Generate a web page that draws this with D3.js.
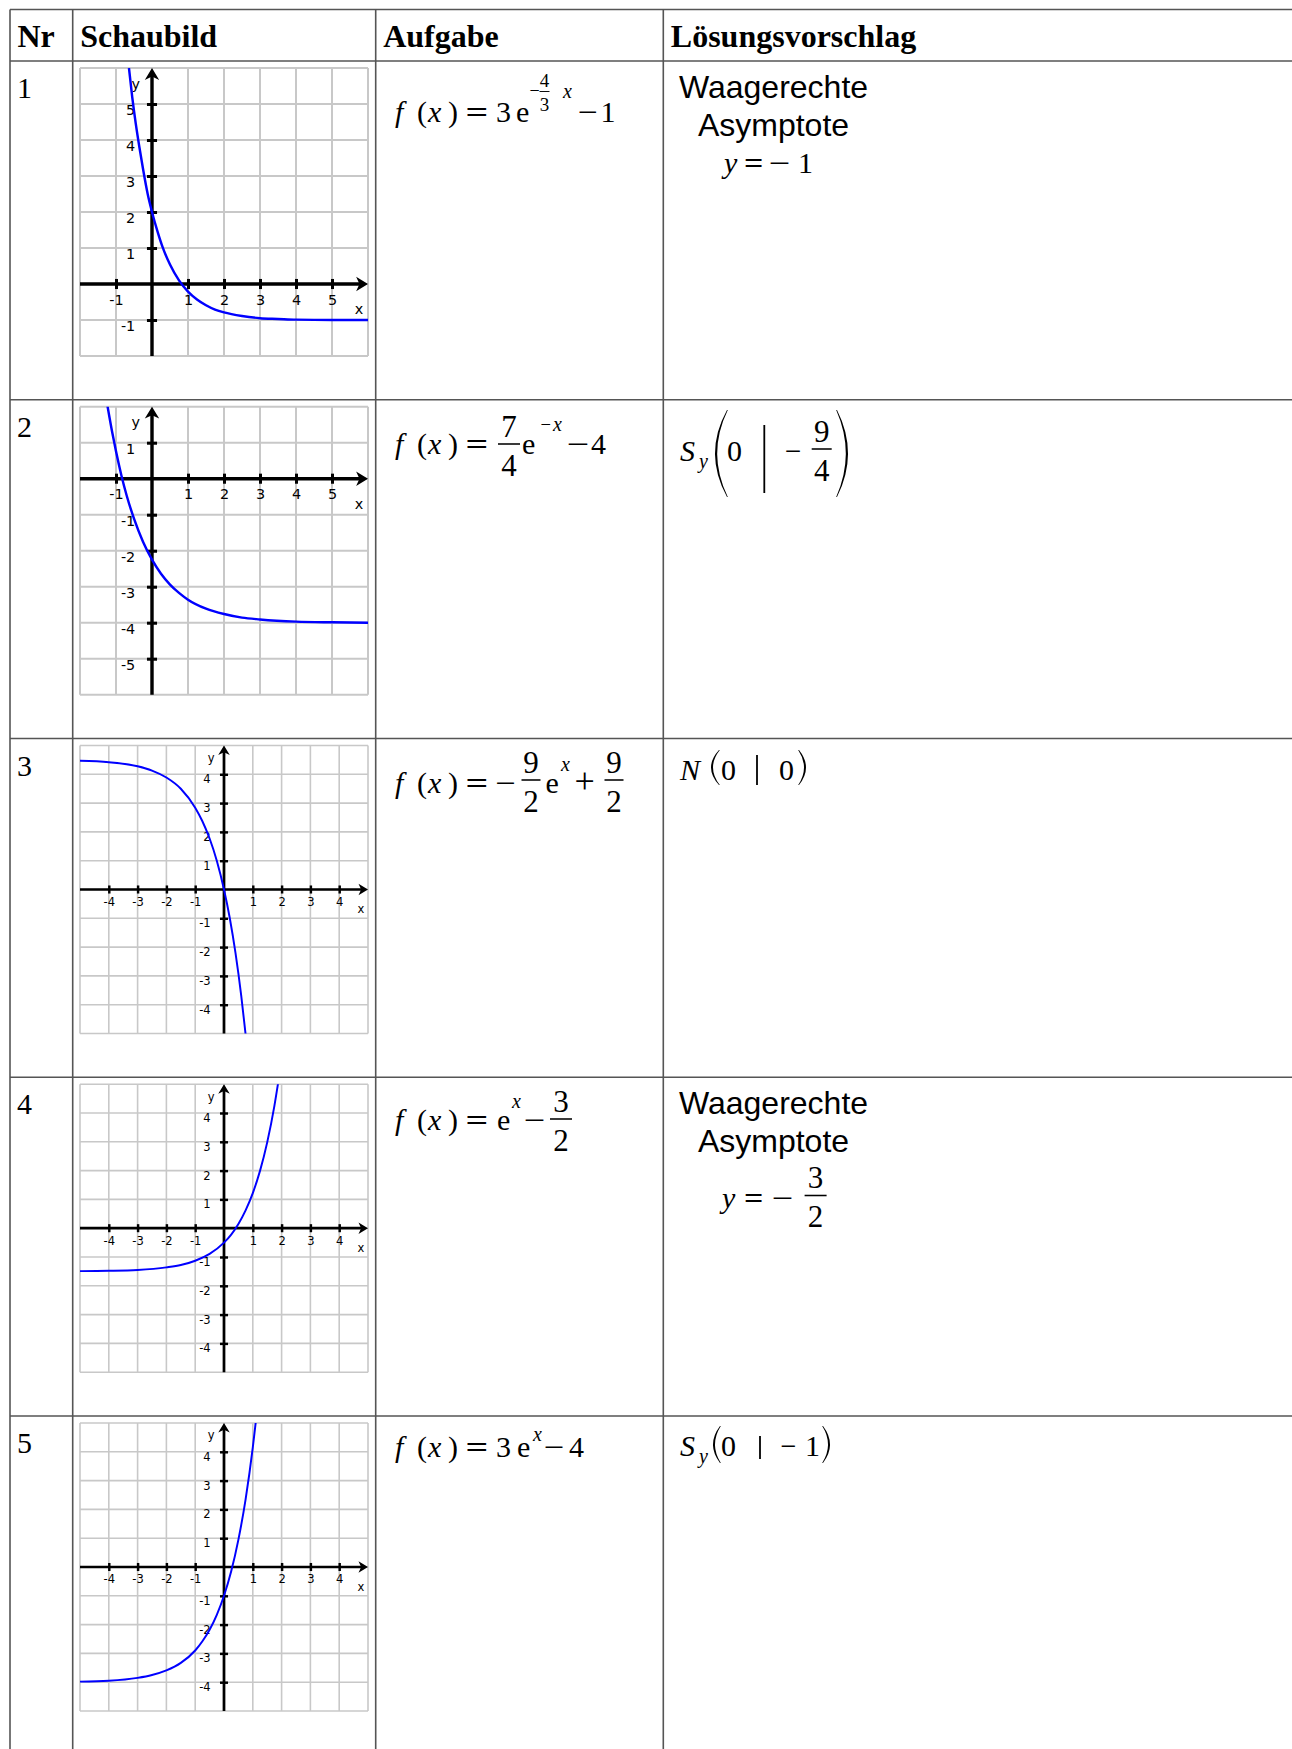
<!DOCTYPE html>
<html>
<head>
<meta charset="utf-8">
<script src="https://cdn.jsdelivr.net/npm/d3@7"></script>
<style>
body{margin:0;background:#fff;}
svg{display:block;}
</style>
</head>
<body>
<svg id="sheet" width="1292" height="1749"></svg>
<script>
// Tabelle: Schaubilder von e-Funktionen
var headers = ["Nr", "Schaubild", "Aufgabe", "Lösungsvorschlag"];
var rowNumbers = ["1", "2", "3", "4", "5"];

var xDomains = [[-2, 6], [-2, 6], [-5, 5], [-5, 5], [-5, 5]];
var yDomains = [[-2, 6], [-6, 2], [-5, 5], [-5, 5], [-5, 5]];

var xTickLabels = [
	[-1, 1, 2, 3, 4, 5],
	[-1, 1, 2, 3, 4, 5],
	[-4, -3, -2, -1, 1, 2, 3, 4],
	[-4, -3, -2, -1, 1, 2, 3, 4],
	[-4, -3, -2, -1, 1, 2, 3, 4]
];
var yTickLabels = [
	[-1, 1, 2, 3, 4, 5],
	[1, -1, -2, -3, -4, -5],
	[-4, -3, -2, -1, 1, 2, 3, 4],
	[-4, -3, -2, -1, 1, 2, 3, 4],
	[-4, -3, -2, -1, 1, 2, 3, 4]
];

var curve1 = [[-0.64, 6.0], [-0.55, 5.2], [-0.45, 4.45], [-0.35, 3.8], [-0.25, 3.2], [-0.12, 2.5], [0, 2.0],
	[0.15, 1.47], [0.3, 1.01], [0.5, 0.54], [0.75, 0.1], [1, -0.21], [1.25, -0.43], [1.5, -0.59],
	[1.75, -0.71], [2, -0.79], [2.5, -0.89], [3, -0.95], [3.5, -0.97], [4, -0.99], [5, -1.0], [6, -1.0]];
var curve2 = [[-1.24, 2.04], [-1.1, 1.26], [-1, 0.76], [-0.85, 0.09], [-0.7, -0.48], [-0.5, -1.11], [-0.25, -1.75],
	[0, -2.25], [0.25, -2.64], [0.5, -2.94], [0.75, -3.17], [1, -3.36], [1.5, -3.61], [2, -3.76],
	[2.5, -3.86], [3, -3.91], [4, -3.97], [5, -3.99], [6, -4.0]];
var curve3 = [[-5, 4.47], [-4, 4.42], [-3, 4.28], [-2.5, 4.13], [-2, 3.89], [-1.5, 3.5], [-1, 2.84],
	[-0.75, 2.37], [-0.5, 1.77], [-0.25, 1.0], [0, 0], [0.2, -0.99], [0.4, -2.21], [0.6, -3.7], [0.75, -5.03]];
var curve4 = [[-5, -1.49], [-4, -1.48], [-3, -1.45], [-2, -1.36], [-1.5, -1.28], [-1, -1.13], [-0.5, -0.89],
	[0, -0.5], [0.25, -0.22], [0.5, 0.15], [0.75, 0.62], [1, 1.22], [1.25, 1.99], [1.5, 2.98],
	[1.75, 4.25], [1.88, 5.05]];
var curve5 = [[-5, -3.98], [-4, -3.95], [-3, -3.85], [-2.5, -3.75], [-2, -3.59], [-1.5, -3.33], [-1, -2.9],
	[-0.75, -2.58], [-0.5, -2.18], [-0.25, -1.66], [0, -1.0], [0.25, -0.15], [0.5, 0.95],
	[0.75, 2.35], [1, 4.15], [1.1, 5.01]];
var curves = [curve1, curve2, curve3, curve4, curve5];

var serif = "'Liberation Serif','Times New Roman',serif";
var sans = "'Liberation Sans',Arial,sans-serif";
var tickFont = "'DejaVu Sans',Verdana,sans-serif";

var colX = [10, 72.7, 375.7, 663.3];
var rowY = [9.5, 61, 399.7, 738.5, 1077.2, 1416];

var svg = d3.select("#sheet");

function drawTable(){
	var g = svg.append("g");
	g.selectAll("line.h").data(rowY).enter().append("line")
	.attr("x1", colX[0]).attr("x2", 1292)
	.attr("y1", function(d){ return d; }).attr("y2", function(d){ return d; })
	.attr("stroke", "#555").attr("stroke-width", 1.6);
	g.selectAll("line.v").data(colX).enter().append("line")
	.attr("x1", function(d){ return d; }).attr("x2", function(d){ return d; })
	.attr("y1", rowY[0]).attr("y2", 1749)
	.attr("stroke", "#555").attr("stroke-width", 1.6);

	g.selectAll("text.head").data(headers).enter().append("text")
	.attr("x", function(d, i){ return colX[i] + 7.5; })
	.attr("y", 47)
	.attr("font-family", serif).attr("font-weight", "bold").attr("font-size", 32)
	.text(function(d){ return d; });

	g.selectAll("text.nr").data(rowNumbers).enter().append("text")
	.attr("x", 17)
	.attr("y", function(d, i){ return rowY[i + 1] + 37; })
	.attr("font-family", serif).attr("font-size", 30)
	.text(function(d){ return d; });
}

function arrow(g, tipX, tipY, dir, L, H){
	// dir: "right" oder "up"
	var p;
	if(dir == "right"){
		p = [[tipX, tipY], [tipX - L, tipY - H], [tipX - L * 0.72, tipY], [tipX - L, tipY + H]];
	} else {
		p = [[tipX, tipY], [tipX - H, tipY + L], [tipX, tipY + L * 0.72], [tipX + H, tipY + L]];
	}
	g.append("path").attr("d", "M" + p.join("L") + "Z").attr("fill", "#000");
}

function drawGraph(i){
	var top = rowY[i + 1] + 7, left = 80, size = 288;
	var x = d3.scaleLinear().domain(xDomains[i]).range([left, left + size]);
	var y = d3.scaleLinear().domain(yDomains[i]).range([top + size, top]);
	var cell = x(1) - x(0);
	var fs = cell * 0.4;
	var g = svg.append("g");

	var gx = d3.range(xDomains[i][0], xDomains[i][1] + 1);
	var gy = d3.range(yDomains[i][0], yDomains[i][1] + 1);
	g.selectAll("line.gx").data(gx).enter().append("line")
	.attr("x1", function(d){ return x(d); }).attr("x2", function(d){ return x(d); })
	.attr("y1", top).attr("y2", top + size)
	.attr("stroke", "#c8c8c8").attr("stroke-width", cell * 0.055);
	g.selectAll("line.gy").data(gy).enter().append("line")
	.attr("y1", function(d){ return y(d); }).attr("y2", function(d){ return y(d); })
	.attr("x1", left).attr("x2", left + size)
	.attr("stroke", "#c8c8c8").attr("stroke-width", cell * 0.055);

	var aw = cell * 0.095, L = cell * 0.33, H = cell * 0.2;
	g.append("line").attr("x1", left).attr("x2", left + size - L * 0.6)
	.attr("y1", y(0)).attr("y2", y(0)).attr("stroke", "#000").attr("stroke-width", aw);
	g.append("line").attr("x1", x(0)).attr("x2", x(0))
	.attr("y1", top + size).attr("y2", top + L * 0.6).attr("stroke", "#000").attr("stroke-width", aw);
	arrow(g, left + size, y(0), "right", L, H);
	arrow(g, x(0), top, "up", L, H);

	var th = cell * 0.14, tw = cell * 0.085;
	var xa = d3.axisBottom(x).tickValues(xTickLabels[i])
	.tickFormat(function(d){ return String(d); })
	.tickSizeInner(0).tickSizeOuter(0).tickPadding(0);
	var ga = g.append("g").attr("transform", "translate(0," + y(0) + ")").call(xa)
	.attr("font-family", tickFont).attr("font-size", fs);
	ga.select(".domain").remove();
	ga.selectAll(".tick line").attr("y1", -th).attr("y2", th).attr("stroke", "#000").attr("stroke-width", tw);
	ga.selectAll(".tick text").attr("y", cell * 0.28).attr("dy", "0.73em").attr("fill", "#000");

	var ya = d3.axisLeft(y).tickValues(yTickLabels[i])
	.tickFormat(function(d){ return String(d); })
	.tickSizeInner(0).tickSizeOuter(0).tickPadding(0);
	var gb = g.append("g").attr("transform", "translate(" + x(0) + ",0)").call(ya)
	.attr("font-family", tickFont).attr("font-size", fs);
	gb.select(".domain").remove();
	gb.selectAll(".tick line").attr("x1", -th).attr("x2", th).attr("stroke", "#000").attr("stroke-width", tw);
	gb.selectAll(".tick text").attr("x", -cell * 0.465).attr("dy", "0.73em").attr("fill", "#000");

	g.append("text").attr("x", left + size - cell * 0.25).attr("y", y(0) + cell * 0.83)
	.attr("text-anchor", "middle").attr("font-family", tickFont)
	.attr("font-size", fs).text("x");
	g.append("text").attr("x", x(0) - cell * 0.45).attr("y", top + cell * 0.57)
	.attr("text-anchor", "middle").attr("font-family", tickFont)
	.attr("font-size", fs).text("y");

	svg.append("clipPath").attr("id", "clip" + i).append("rect")
	.attr("x", left).attr("y", top).attr("width", size).attr("height", size);
	var line = d3.line()
	.x(function(d){ return x(d[0]); })
	.y(function(d){ return y(d[1]); })
	.curve(d3.curveMonotoneX);
	g.append("path").datum(curves[i])
	.attr("d", line)
	.attr("clip-path", "url(#clip" + i + ")")
	.attr("fill", "none").attr("stroke", "#0000ff").attr("stroke-width", cell * 0.068);
}

// Formelsatz
var lead = [{s: "f", x: 395, it: 1}, {s: "(", x: 417}, {s: "x", x: 428, it: 1}, {s: ")", x: 448},
	{s: "=", x: 465.5, b: 1, tl: 22.8}];

function mathLine(tokens, B){
	var g = svg.append("g");
	tokens.forEach(function(t){
		var fs = t.fs || 30;
		if(t.frac){
			fs = t.fs || 31;
			var bar = B - t.up;
			g.append("line").attr("x1", t.cx - t.w / 2).attr("x2", t.cx + t.w / 2)
			.attr("y1", bar).attr("y2", bar).attr("stroke", "#000").attr("stroke-width", fs * 0.05);
			g.append("text").attr("x", t.cx).attr("y", bar - fs * 0.23).attr("text-anchor", "middle")
			.attr("font-family", serif).attr("font-size", fs).text(t.frac[0]);
			g.append("text").attr("x", t.cx).attr("y", bar + fs * 1.02).attr("text-anchor", "middle")
			.attr("font-family", serif).attr("font-size", fs).text(t.frac[1]);
		} else if(t.paren){
			var y0 = B - t.up, y1 = B + t.down, m = (y0 + y1) / 2, th = t.th || 2.2;
			var d;
			if(t.paren == "L"){
				d = "M" + t.x1 + "," + y0 + "Q" + (2 * t.x0 - t.x1) + "," + m + " " + t.x1 + "," + y1 +
					"L" + (t.x1 + 0.8) + "," + y1 + "Q" + (2 * (t.x0 + th) - t.x1 - 0.8) + "," + m + " " + (t.x1 + 0.8) + "," + y0 + "Z";
			} else {
				d = "M" + t.x0 + "," + y0 + "Q" + (2 * t.x1 - t.x0) + "," + m + " " + t.x0 + "," + y1 +
					"L" + (t.x0 - 0.8) + "," + y1 + "Q" + (2 * (t.x1 - th) - t.x0 + 0.8) + "," + m + " " + (t.x0 - 0.8) + "," + y0 + "Z";
			}
			g.append("path").attr("d", d).attr("fill", "#000");
		} else if(t.vbar){
			g.append("line").attr("x1", t.vbar).attr("x2", t.vbar)
			.attr("y1", B - t.up).attr("y2", B + t.down).attr("stroke", "#000").attr("stroke-width", 1.8);
		} else {
			var el = g.append("text").attr("x", t.x).attr("y", B - (t.up || 0))
			.attr("text-anchor", t.anchor || null)
			.attr("font-family", t.sans ? sans : serif).attr("font-size", fs)
			.attr("font-style", t.it ? "italic" : null)
			.attr("font-weight", t.b ? "bold" : null)
			.text(t.s);
			if(t.tl) el.attr("textLength", t.tl).attr("lengthAdjust", "spacingAndGlyphs");
		}
	});
}

function drawAufgaben(){
	mathLine(lead.concat([{s: "3", x: 496}, {s: "e", x: 516},
		{s: "−", x: 529.5, fs: 19, up: 25, tl: 10.2}, {frac: ["4", "3"], cx: 544.5, w: 10, fs: 19, up: 30.5},
		{s: "x", x: 563, it: 1, fs: 20, up: 24}, {s: "−", x: 578, tl: 20}, {s: "1", x: 600.5}]), 122);
	mathLine(lead.concat([{frac: ["7", "4"], cx: 509, w: 22, up: 9.5}, {s: "e", x: 522},
		{s: "−", x: 540.5, fs: 20, up: 23, tl: 10.5}, {s: "x", x: 553, it: 1, fs: 20, up: 23},
		{s: "−", x: 567, tl: 22.5}, {s: "4", x: 591}]), 453.5);
	mathLine(lead.concat([{s: "−", x: 495.5, tl: 20.5}, {frac: ["9", "2"], cx: 531, w: 19, up: 13},
		{s: "e", x: 545.5}, {s: "x", x: 561, it: 1, fs: 20, up: 22}, {s: "+", x: 574.5, fs: 36},
		{frac: ["9", "2"], cx: 614, w: 19, up: 13}]), 793);
	mathLine(lead.concat([{s: "e", x: 497}, {s: "x", x: 512, it: 1, fs: 20, up: 22},
		{s: "−", x: 524, tl: 21.5}, {frac: ["3", "2"], cx: 561, w: 22, up: 11}]), 1130);
	mathLine(lead.concat([{s: "3", x: 496}, {s: "e", x: 517}, {s: "x", x: 533, it: 1, fs: 20, up: 16},
		{s: "−", x: 544, tl: 20.5}, {s: "4", x: 569}]), 1456.5);
}

function drawLoesungen(){
	mathLine([{s: "Waagerechte", x: 773.5, anchor: "middle", sans: 1, fs: 32}], 98);
	mathLine([{s: "Asymptote", x: 773.5, anchor: "middle", sans: 1, fs: 32}], 135.5);
	mathLine([{s: "y", x: 724, it: 1}, {s: "=", x: 744, b: 1, tl: 19.4},
		{s: "−", x: 769, tl: 21.5}, {s: "1", x: 798}], 173);

	mathLine([{s: "S", x: 680, it: 1}, {s: "y", x: 699, it: 1, fs: 20, up: -7},
		{paren: "L", x0: 715, x1: 727, up: 51, down: 36}, {s: "0", x: 727},
		{vbar: 764.3, up: 36, down: 32}, {s: "−", x: 785, tl: 16.5},
		{frac: ["9", "4"], cx: 821.7, w: 20, up: 12},
		{paren: "R", x0: 837, x1: 848, up: 51, down: 36}], 461);

	mathLine([{s: "N", x: 680, it: 1}, {paren: "L", x0: 711, x1: 719, up: 30, down: 5, th: 2},
		{s: "0", x: 721}, {vbar: 757, up: 25, down: 5}, {s: "0", x: 779},
		{paren: "R", x0: 799, x1: 806, up: 30, down: 5, th: 2}], 780);

	mathLine([{s: "Waagerechte", x: 773.5, anchor: "middle", sans: 1, fs: 32}], 1114);
	mathLine([{s: "Asymptote", x: 773.5, anchor: "middle", sans: 1, fs: 32}], 1151.5);
	mathLine([{s: "y", x: 722, it: 1}, {s: "=", x: 744, b: 1, tl: 19.4}, {s: "−", x: 772, tl: 21.5},
		{frac: ["3", "2"], cx: 815.6, w: 22, up: 12.5}], 1208);

	mathLine([{s: "S", x: 680, it: 1}, {s: "y", x: 699, it: 1, fs: 20, up: -7},
		{paren: "L", x0: 713, x1: 720, up: 30, down: 7, th: 2}, {s: "0", x: 721},
		{vbar: 760, up: 20, down: 3}, {s: "−", x: 780.5, tl: 16}, {s: "1", x: 805},
		{paren: "R", x0: 823, x1: 830, up: 30, down: 7, th: 2}], 1456);
}

drawTable();
for(var i = 0; i < curves.length; i++){
	drawGraph(i);
}
drawAufgaben();
drawLoesungen();
</script>
</body>
</html>
